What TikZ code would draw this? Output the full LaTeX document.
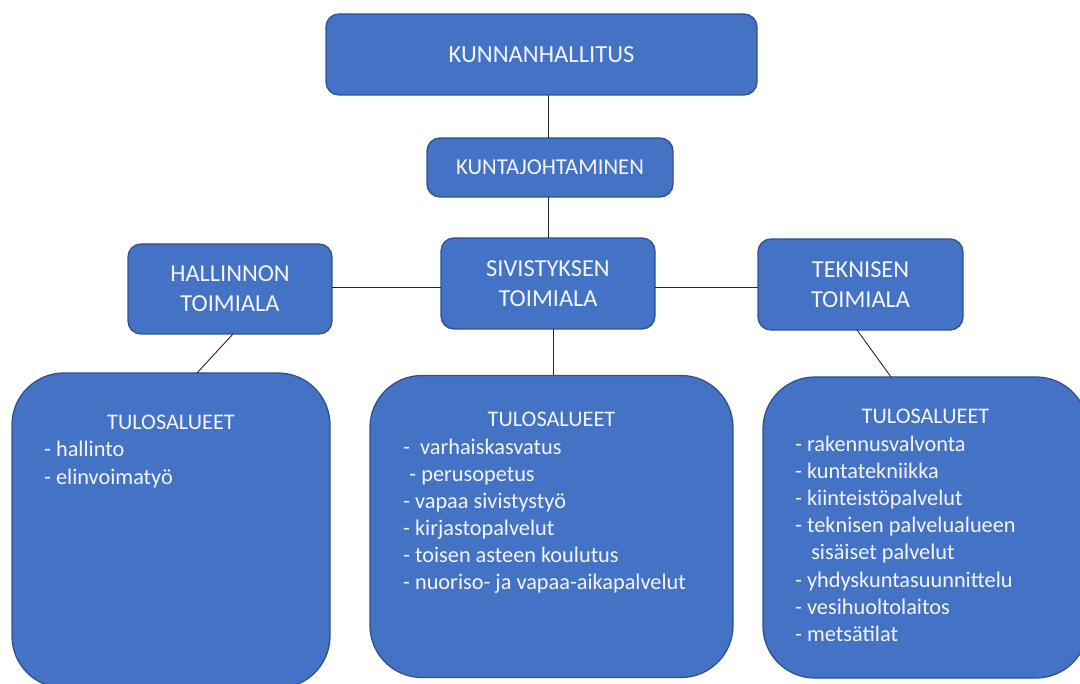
\documentclass[tikz,border=0pt]{standalone}
\usepackage{fontspec}
\setmainfont{Carlito}
\definecolor{boxblue}{HTML}{4472C4}
\definecolor{boxedge}{HTML}{2F528F}
\definecolor{txt}{HTML}{F4F6FB}
\begin{document}
\begin{tikzpicture}[x=1pt,y=-1pt,
  smallbox/.style={draw=boxedge, fill=boxblue, line width=1.3pt, rounded corners=13pt,
    text=txt, align=center, inner sep=0pt, outer sep=0pt},
  bigbox/.style={draw=boxedge, fill=boxblue, line width=1.3pt, rounded corners=52pt,
    inner sep=0pt, outer sep=0pt},
  head/.style={text=txt, inner sep=0pt, anchor=base, font=\fontsize{22.3}{27.2}\selectfont},
  items/.style={text=txt, inner sep=0pt, anchor=base west, align=left, font=\fontsize{22.3}{27.2}\selectfont},
  conn/.style={draw=black!85, line width=0.9pt}]
\useasboundingbox (0,0) rectangle (1080,684);
% top
\node[smallbox, minimum width=431pt, minimum height=81pt, font=\fontsize{24.6}{28}\selectfont] (kh) at (541.5,54.5) {KUNNANHALLITUS};
\node[smallbox, minimum width=246pt, minimum height=59pt, font=\fontsize{22.7}{26}\selectfont] (kj) at (550,167.5) {KUNTAJOHTAMINEN};
% middle row
\node[smallbox, minimum width=204pt, minimum height=90pt, font=\fontsize{24.4}{30}\selectfont] (hal) at (230,289) {HALLINNON\\TOIMIALA};
\node[smallbox, minimum width=214pt, minimum height=91pt, font=\fontsize{24.4}{30}\selectfont] (siv) at (548,283.5) {SIVISTYKSEN\\TOIMIALA};
\node[smallbox, minimum width=205pt, minimum height=91pt, font=\fontsize{24.4}{30}\selectfont] (tek) at (860.5,284.5) {TEKNISEN\\TOIMIALA};
% big boxes
\node[bigbox, minimum width=318pt, minimum height=315pt] (lb) at (171,530.5) {};
\node[bigbox, minimum width=363pt, minimum height=302pt] (mb) at (551.5,526.5) {};
\node[bigbox, minimum width=325pt, minimum height=301pt] (rb) at (925.5,527.5) {};
% texts in big boxes (anchored at the baseline of the last line)
\node[head] (lbh) at (171,430) {TULOSALUEET};
\node[items] (lbi) at (44,484.2) {- hallinto\\- elinvoimatyö};
\node[head] (mbh) at (551.5,427) {TULOSALUEET};
\node[items] (mbi) at (403,590) {-\ \ varhaiskasvatus\\\hspace*{0.28em}- perusopetus\\- vapaa sivistystyö\\- kirjastopalvelut\\- toisen asteen koulutus\\- nuoriso- ja vapaa-aikapalvelut};
\node[head] (rbh) at (925.5,424) {TULOSALUEET};
\node[items] (rbi) at (795,641.4) {- rakennusvalvonta\\- kuntatekniikka\\- kiinteistöpalvelut\\- teknisen palvelualueen\\\hspace*{0.72em}sisäiset palvelut\\- yhdyskuntasuunnittelu\\- vesihuoltolaitos\\- metsätilat};
% connectors
\draw[conn] ([xshift=6.5pt]kh.south) -- ([xshift=-2pt]kj.north);
\draw[conn] ([xshift=-2pt]kj.south) -- (siv.north);
\draw[conn] ([yshift=-3.5pt]siv.west) -- ([yshift=2pt]hal.east);
\draw[conn] ([yshift=-3.5pt]siv.east) -- ([yshift=-2.5pt]tek.west);
\draw[conn] ([xshift=5pt]siv.south) -- ([xshift=1.5pt]mb.north);
\draw[conn] ([xshift=3pt]hal.south) -- ([xshift=26pt]lb.north);
\draw[conn] ([xshift=-3.5pt]tek.south) -- ([xshift=-34.5pt]rb.north);
\end{tikzpicture}
\end{document}
